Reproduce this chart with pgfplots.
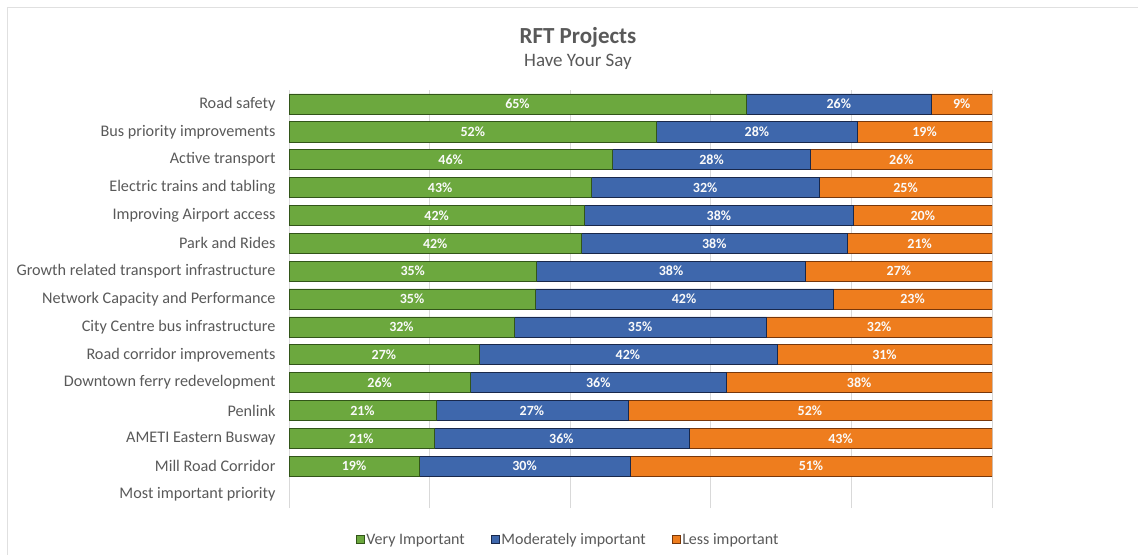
\documentclass[border=0pt]{standalone}
\usepackage{fontspec}
\setmainfont{Carlito}
\usepackage{pgfplots}
\pgfplotsset{compat=1.18}
\definecolor{txt}{RGB}{89,89,89}
\definecolor{gmid}{RGB}{108,168,62}
\definecolor{gedge}{RGB}{50,85,25}
\definecolor{bmid}{RGB}{62,103,172}
\definecolor{bedge}{RGB}{25,40,75}
\definecolor{omid}{RGB}{238,125,30}
\definecolor{oedge}{RGB}{120,55,10}
\pgfplotsset{
  chartgeom/.style={at={(289pt,47pt)}, anchor=south west,
    scale only axis, width=703pt, height=418pt,
    xmin=0, xmax=100, ymin=-0.5, ymax=14.5},
}
\begin{document}
\begin{tikzpicture}
\path[use as bounding box] (0pt,0pt) rectangle (1138pt,555pt);
\draw[black!12, line width=1pt] (7pt,0pt) -- (7pt,547pt) -- (1138pt,547pt);
\node[font=\fontsize{23}{26}\selectfont\bfseries, text=txt] at (578pt,518pt) {RFT Projects};
\node[font=\fontsize{19}{22}\selectfont, text=txt] at (578pt,493pt) {Have Your Say};
\begin{axis}[
  chartgeom,
  xbar stacked, bar width=0.72,
  xtick={0,20,...,100}, xticklabels={},
  xmajorgrids, grid style={black!15, line width=0.8pt},
  axis line style={draw=none}, tick style={draw=none},
  ytick={0,...,14},
  yticklabels={Most important priority, Mill Road Corridor, AMETI Eastern Busway, Penlink, Downtown ferry redevelopment, Road corridor improvements, City Centre bus infrastructure, Network Capacity and Performance, Growth related transport infrastructure, Park and Rides, Improving Airport access, Electric trains and tabling, Active transport, Bus priority improvements, Road safety},
  y tick label style={font=\fontsize{16.2}{18}\selectfont, text=txt, xshift=-10pt},
  legend columns=3,
  legend style={at={(0.397,-0.077)}, anchor=center, draw=none, fill=none,
    font=\fontsize{16}{18}\selectfont, text=txt,
    /tikz/every even column/.append style={column sep=24pt}},
  legend image code/.code={\fill[#1] (0pt,-3pt) rectangle (8pt,5pt);},
]
\addplot[fill=gmid, draw=gedge, line width=0.6pt] coordinates {
 (65,14) (52.3,13) (46,12) (43,11) (42,10) (41.6,9) (35.2,8)
 (35,7) (32,6) (27,5) (25.8,4) (20.9,3) (20.6,2) (18.5,1)
};
\addplot[fill=bmid, draw=bedge, line width=0.6pt] coordinates {
 (26.4,14) (28.5,13) (28.2,12) (32.4,11) (38.3,10) (37.8,9) (38.3,8)
 (42.4,7) (35.9,6) (42.4,5) (36.4,4) (27.3,3) (36.3,2) (30,1)
};
\addplot[fill=omid, draw=oedge, line width=0.6pt] coordinates {
 (8.6,14) (19.2,13) (25.8,12) (24.6,11) (19.7,10) (20.6,9) (26.5,8)
 (22.6,7) (32.1,6) (30.6,5) (37.8,4) (51.8,3) (43.1,2) (51.5,1)
};
\legend{Very Important, Moderately important, Less important}
\end{axis}
% data labels at the centre of each segment
\begin{axis}[
  chartgeom, hide axis,
  point meta=explicit symbolic,
  nodes near coords,
  every node near coord/.append style={anchor=center, font=\fontsize{14}{16}\selectfont\bfseries, text=white!96!gray},
]
\addplot[only marks, mark=none, draw=none] coordinates {
 (32.5,14) [65\%]  (78.2,14) [26\%]  (95.7,14) [9\%]
 (26.15,13) [52\%] (66.55,13) [28\%] (90.4,13) [19\%]
 (23,12) [46\%]    (60.1,12) [28\%]  (87.1,12) [26\%]
 (21.5,11) [43\%]  (59.2,11) [32\%]  (87.7,11) [25\%]
 (21,10) [42\%]    (61.15,10) [38\%] (90.15,10) [20\%]
 (20.8,9) [42\%]   (60.5,9) [38\%]   (89.7,9) [21\%]
 (17.6,8) [35\%]   (54.35,8) [38\%]  (86.75,8) [27\%]
 (17.5,7) [35\%]   (56.2,7) [42\%]   (88.7,7) [23\%]
 (16,6) [32\%]     (49.95,6) [35\%]  (83.95,6) [32\%]
 (13.5,5) [27\%]   (48.2,5) [42\%]   (84.7,5) [31\%]
 (12.9,4) [26\%]   (44,4) [36\%]     (81.1,4) [38\%]
 (10.45,3) [21\%]  (34.55,3) [27\%]  (74.1,3) [52\%]
 (10.3,2) [21\%]   (38.75,2) [36\%]  (78.45,2) [43\%]
 (9.25,1) [19\%]   (33.5,1) [30\%]   (74.25,1) [51\%]
};
\end{axis}
\end{tikzpicture}
\end{document}
